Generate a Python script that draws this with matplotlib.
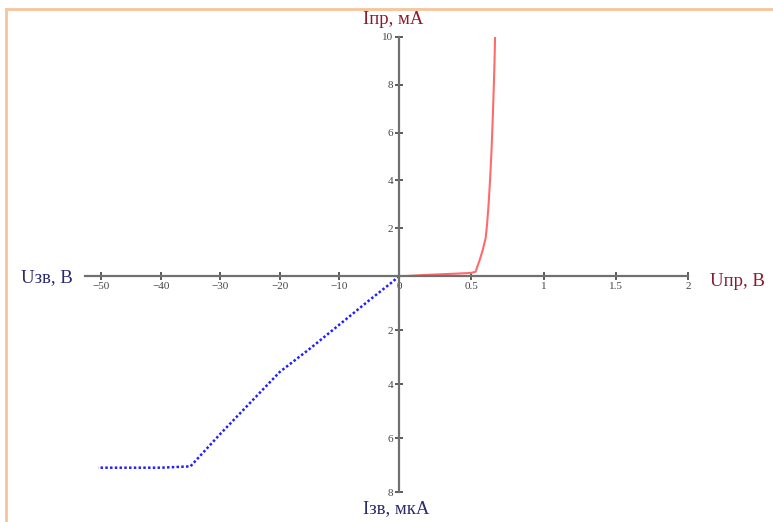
import matplotlib.pyplot as plt
from matplotlib.patches import Rectangle

# Forward branch (U, V ; I, mA)
u_fwd = [0.05, 0.2, 0.4, 0.5, 0.53, 0.56, 0.58, 0.6, 0.61, 0.62, 0.63, 0.64, 0.65, 0.66, 0.665]
i_fwd = [0.0, 0.05, 0.1, 0.13, 0.18, 0.7, 1.1, 1.6, 2.2, 3.0, 4.0, 5.2, 6.8, 8.7, 10.0]

# Reverse branch (U, V ; I, uA)
u_rev = [0, -1, -3, -5, -10, -15, -20, -25, -30, -35, -40, -45, -50.5]
i_rev = [0, 0.2, 0.55, 0.9, 1.8, 2.7, 3.55, 4.7, 5.85, 7.05, 7.1, 7.1, 7.1]

fwd_xticks = [0, 0.5, 1, 1.5, 2]
fwd_xlabels = ["0", "0.5", "1", "1.5", "2"]
fwd_yticks = [2, 4, 6, 8, 10]
rev_xticks = [-50, -40, -30, -20, -10]
rev_yticks = [2, 4, 6, 8]

W, H = 773, 522
fig = plt.figure(figsize=(W / 100, H / 100), dpi=100)
plt.rcParams['font.family'] = ['Liberation Serif', 'DejaVu Serif']

# peach frame (top and left edges visible)
fig.patches.append(Rectangle((6 / W, -0.1), 1.2, 1 - 9 / H + 0.1, transform=fig.transFigure,
                             fill=False, edgecolor='#f7c39a', linewidth=2))

axis_col = '#707070'
tick_col = '#454545'

def px(x0, y0, x1, y1):
    # pixel box -> figure fraction rect
    return [x0 / W, 1 - y1 / H, (x1 - x0) / W, (y1 - y0) / H]

ax_f = fig.add_axes(px(399, 37, 688, 276))
ax_r = fig.add_axes(px(85, 276, 399, 492))
for ax in (ax_f, ax_r):
    ax.patch.set_alpha(0)

# forward quadrant
ax_f.plot(u_fwd, i_fwd, color='#ff6b6b', linewidth=1.5)
ax_f.set_xlim(0, 2)
ax_f.set_ylim(0, 10)
ax_f.spines['top'].set_visible(False)
ax_f.spines['right'].set_visible(False)
ax_f.set_xticks(fwd_xticks, fwd_xlabels)
ax_f.set_yticks(fwd_yticks)

# reverse quadrant
ax_r.plot(u_rev, i_rev, color='#2020ff', linewidth=1.8, linestyle=(0, (1, 0.9)))
ax_r.set_xlim(-52.7, 0)
ax_r.set_ylim(8, 0)
ax_r.spines['top'].set_visible(False)
ax_r.spines['right'].set_visible(False)
ax_r.spines['bottom'].set_position(('data', 0))
ax_r.spines['left'].set_position(('data', 0))
ax_r.set_xticks(rev_xticks)
ax_r.set_yticks(rev_yticks)

for ax in (ax_f, ax_r):
    for s in ('left', 'bottom'):
        ax.spines[s].set_color(axis_col)
        ax.spines[s].set_linewidth(1.6)
    ax.tick_params(direction='inout', length=6, width=1.2, color='#404040',
                   labelsize=8, labelcolor=tick_col, pad=1)

# axis titles
fig.text(393 / W, 1 - 19 / H, "Іпр, мА", color='#8b1a2e', fontsize=13.5, ha='center', va='center')
fig.text(47 / W, 1 - 278 / H, "Uзв, В", color='#2a2a6e', fontsize=13.5, ha='center', va='center')
fig.text(737 / W, 1 - 282 / H, "Uпр, В", color='#8b1a2e', fontsize=13.5, ha='center', va='center')
fig.text(396 / W, 1 - 509 / H, "Ізв, мкА", color='#2a2a6e', fontsize=13.5, ha='center', va='center')

fig.savefig("out.png", dpi=100)
